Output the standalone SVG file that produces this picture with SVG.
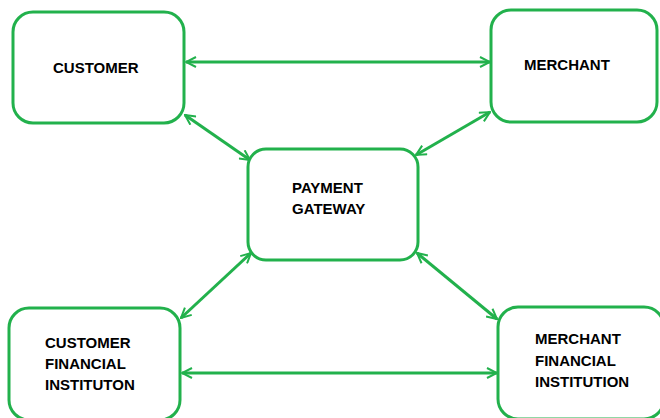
<svg xmlns="http://www.w3.org/2000/svg" width="660" height="418" viewBox="0 0 660 418">
<style>
.box{fill:#fff;stroke:#22b14c;stroke-width:3}
.lbl{font-family:"Liberation Sans",Arial,sans-serif;font-weight:bold;font-size:15px;fill:#000}
.con{stroke:#22b14c;stroke-width:3;fill:none;marker-start:url(#ah);marker-end:url(#ah)}
</style>
<defs>
<marker id="ah" viewBox="0 0 12 12" refX="11" refY="6" markerWidth="12" markerHeight="12" markerUnits="userSpaceOnUse" orient="auto-start-reverse">
<path d="M1,1 L11,6 L1,11" fill="none" stroke="#22b14c" stroke-width="2"/>
</marker>
</defs>
<rect width="660" height="418" fill="#fff"/>
<g id="connectors">
<line class="con" x1="186" y1="62" x2="490" y2="62"/>
<line class="con" x1="185" y1="115" x2="250" y2="160"/>
<line class="con" x1="490" y1="112" x2="416" y2="155"/>
<line class="con" x1="181" y1="318" x2="251" y2="253"/>
<line class="con" x1="417" y1="253" x2="497" y2="319"/>
<line class="con" x1="182" y1="373" x2="497" y2="373"/>
</g>
<g id="customer">
<rect class="box" x="13" y="12" width="171" height="111" rx="20"/>
<text class="lbl" x="53" y="73">CUSTOMER</text>
</g>
<g id="merchant">
<rect class="box" x="491" y="10" width="166" height="112" rx="20"/>
<text class="lbl" x="524" y="70">MERCHANT</text>
</g>
<g id="payment-gateway">
<rect class="box" x="248" y="149" width="170" height="111" rx="18"/>
<text class="lbl" x="292" y="193">PAYMENT</text>
<text class="lbl" x="292" y="214">GATEWAY</text>
</g>
<g id="customer-financial">
<rect class="box" x="9" y="308" width="171" height="112" rx="20"/>
<text class="lbl" x="45" y="348">CUSTOMER</text>
<text class="lbl" x="45" y="369">FINANCIAL</text>
<text class="lbl" x="45" y="390">INSTITUTON</text>
</g>
<g id="merchant-financial">
<rect class="box" x="498" y="307" width="166" height="112" rx="20"/>
<text class="lbl" x="535" y="344">MERCHANT</text>
<text class="lbl" x="535" y="366">FINANCIAL</text>
<text class="lbl" x="535" y="387">INSTITUTION</text>
</g>
</svg>
